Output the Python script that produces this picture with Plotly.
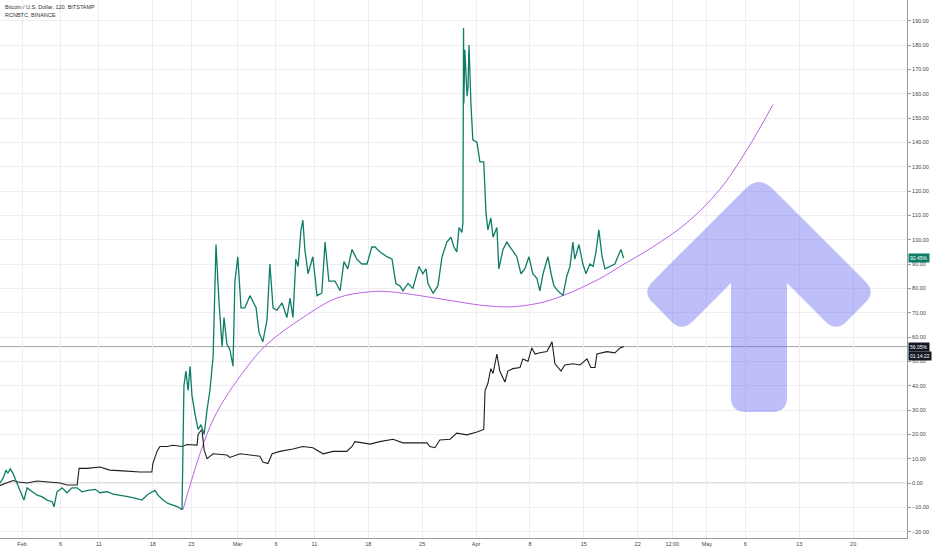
import plotly.graph_objects as go

# RCNBTC, BINANCE - change in % (green)
rcn_time = [
    "2019-01-29 03:00", "2019-01-29 13:00", "2019-01-29 22:00", "2019-01-30 04:00", "2019-01-30 11:00",
    "2019-01-30 20:00", "2019-01-31 02:00", "2019-01-31 12:00", "2019-02-01 00:00", "2019-02-01 06:00",
    "2019-02-01 16:00", "2019-02-02 07:00", "2019-02-02 23:00", "2019-02-03 14:00", "2019-02-04 06:00",
    "2019-02-04 22:00", "2019-02-05 04:00", "2019-02-05 13:00", "2019-02-06 05:00", "2019-02-06 20:00",
    "2019-02-07 12:00", "2019-02-08 04:00", "2019-02-08 19:00", "2019-02-09 14:00", "2019-02-10 12:00",
    "2019-02-11 03:00", "2019-02-12 01:00", "2019-02-12 20:00", "2019-02-13 18:00", "2019-02-14 18:00",
    "2019-02-15 16:00", "2019-02-16 14:00", "2019-02-17 09:00", "2019-02-18 07:00", "2019-02-18 16:00",
    "2019-02-19 08:00", "2019-02-19 23:00", "2019-02-20 15:00", "2019-02-21 06:00", "2019-02-21 19:00",
    "2019-02-21 22:00", "2019-02-22 01:00", "2019-02-22 07:00", "2019-02-22 14:00", "2019-02-22 20:00",
    "2019-02-23 02:00", "2019-02-23 12:00", "2019-02-23 21:00", "2019-02-24 06:00", "2019-02-24 16:00",
    "2019-02-25 01:00", "2019-02-25 10:00", "2019-02-25 20:00", "2019-02-26 05:00", "2019-02-26 14:00",
    "2019-02-27 00:00", "2019-02-27 06:00", "2019-02-27 15:00", "2019-02-28 00:00", "2019-02-28 10:00",
    "2019-02-28 16:00", "2019-03-01 01:00", "2019-03-01 11:00", "2019-03-01 23:00", "2019-03-02 15:00",
    "2019-03-03 10:00", "2019-03-03 19:00", "2019-03-04 07:00", "2019-03-04 20:00", "2019-03-05 05:00",
    "2019-03-05 15:00", "2019-03-06 03:00", "2019-03-06 19:00", "2019-03-07 10:00", "2019-03-07 20:00",
    "2019-03-08 05:00", "2019-03-08 14:00", "2019-03-08 21:00", "2019-03-09 06:00", "2019-03-09 12:00",
    "2019-03-09 18:00", "2019-03-10 04:00", "2019-03-10 19:00", "2019-03-11 08:00", "2019-03-11 23:00",
    "2019-03-12 09:00", "2019-03-12 21:00", "2019-03-13 16:00", "2019-03-14 08:00", "2019-03-14 20:00",
    "2019-03-15 08:00", "2019-03-15 21:00", "2019-03-16 12:00", "2019-03-17 04:00", "2019-03-17 20:00",
    "2019-03-18 11:00", "2019-03-18 21:00", "2019-03-19 12:00", "2019-03-20 10:00", "2019-03-21 02:00",
    "2019-03-21 14:00", "2019-03-22 03:00", "2019-03-22 12:00", "2019-03-23 04:00", "2019-03-23 19:00",
    "2019-03-24 14:00", "2019-03-25 02:00", "2019-03-25 12:00", "2019-03-25 18:00", "2019-03-26 10:00",
    "2019-03-27 01:00", "2019-03-27 14:00", "2019-03-28 05:00", "2019-03-28 18:00", "2019-03-29 03:00",
    "2019-03-29 12:00", "2019-03-29 19:00", "2019-03-30 04:00", "2019-03-30 07:00", "2019-03-30 09:00",
    "2019-03-30 10:00", "2019-03-30 13:00", "2019-03-30 20:00", "2019-03-30 23:00", "2019-03-31 02:00",
    "2019-03-31 08:00", "2019-03-31 14:00", "2019-04-01 03:00", "2019-04-01 12:00", "2019-04-02 00:00",
    "2019-04-02 07:00", "2019-04-02 13:00", "2019-04-02 22:00", "2019-04-03 05:00", "2019-04-03 17:00",
    "2019-04-03 23:00", "2019-04-04 12:00", "2019-04-05 00:00", "2019-04-05 16:00", "2019-04-06 07:00",
    "2019-04-06 20:00", "2019-04-07 08:00", "2019-04-07 21:00", "2019-04-08 09:00", "2019-04-08 22:00",
    "2019-04-09 07:00", "2019-04-09 17:00", "2019-04-10 08:00", "2019-04-10 18:00", "2019-04-11 03:00",
    "2019-04-11 15:00", "2019-04-12 07:00", "2019-04-12 19:00", "2019-04-13 05:00", "2019-04-13 14:00",
    "2019-04-13 20:00", "2019-04-14 09:00", "2019-04-14 21:00", "2019-04-15 07:00", "2019-04-15 19:00",
    "2019-04-16 05:00", "2019-04-16 14:00", "2019-04-16 23:00", "2019-04-17 09:00", "2019-04-17 18:00",
    "2019-04-18 09:00", "2019-04-19 01:00", "2019-04-19 10:00", "2019-04-19 20:00", "2019-04-20 04:00",
]
rcn_pct = [
    0, 2, 5.3, 4, 5.8,
    4, 2, -1.5, -5.6, -7,
    -2, -3.6, -5, -5.6, -7,
    -7.7, -9.8, -3.6, -2, -4,
    -2, -2, -3.6, -3, -2.6,
    -4, -3.6, -4.6, -5, -5.6,
    -6.2, -7, -4.6, -3, -5,
    -7, -8.4, -9, -9.8, -11,
    25, 40, 46, 38, 48,
    36, 28, 22, 24, 20,
    30, 38, 52, 98, 75,
    56, 68, 57, 55, 48,
    83, 93, 72, 72, 77,
    72, 62, 58, 67, 90,
    72, 71, 74, 68, 76,
    68, 92, 89, 104, 108,
    96, 86, 93, 77, 78,
    99, 83, 83, 79, 91,
    88, 96, 92, 90, 90,
    97, 97, 95, 93, 92,
    82, 81, 79, 82, 80,
    89, 86, 88, 82, 78,
    81, 93, 99, 101, 97,
    95, 105, 103, 107, 187,
    156, 178, 159, 163, 180,
    156, 141, 140, 132, 132,
    111, 104, 109, 101, 105,
    88, 96, 99, 96, 93,
    86, 88, 93, 86, 84,
    79, 86, 93, 86, 81,
    79, 77, 85, 89, 99,
    92, 98, 90, 86, 90,
    89, 95, 104, 93, 88,
    89, 90, 93, 96, 92.45,
]

# Bitcoin / U.S. Dollar, BITSTAMP - change in % (black)
btc_time = [
    "2019-01-29 03:00", "2019-01-30 01:00", "2019-01-30 20:00", "2019-01-31 12:00", "2019-02-01 16:00",
    "2019-02-02 23:00", "2019-02-04 15:00", "2019-02-05 23:00", "2019-02-06 20:00", "2019-02-08 04:00",
    "2019-02-08 10:00", "2019-02-09 11:00", "2019-02-11 03:00", "2019-02-12 10:00", "2019-02-14 03:00",
    "2019-02-16 08:00", "2019-02-17 21:00", "2019-02-18 00:00", "2019-02-18 13:00", "2019-02-18 22:00",
    "2019-02-19 20:00", "2019-02-20 15:00", "2019-02-21 19:00", "2019-02-22 11:00", "2019-02-23 18:00",
    "2019-02-23 21:00", "2019-02-24 09:00", "2019-02-24 16:00", "2019-02-25 01:00", "2019-02-25 20:00",
    "2019-02-27 15:00", "2019-02-28 00:00", "2019-03-01 08:00", "2019-03-02 15:00", "2019-03-03 22:00",
    "2019-03-04 07:00", "2019-03-04 23:00", "2019-03-05 12:00", "2019-03-06 12:00", "2019-03-08 05:00",
    "2019-03-09 12:00", "2019-03-10 19:00", "2019-03-12 03:00", "2019-03-13 10:00", "2019-03-15 05:00",
    "2019-03-15 21:00", "2019-03-16 06:00", "2019-03-17 07:00", "2019-03-18 05:00", "2019-03-19 12:00",
    "2019-03-21 05:00", "2019-03-22 12:00", "2019-03-24 08:00", "2019-03-25 15:00", "2019-03-26 00:00",
    "2019-03-26 16:00", "2019-03-27 07:00", "2019-03-28 15:00", "2019-03-29 12:00", "2019-03-30 20:00",
    "2019-04-01 03:00", "2019-04-02 00:00", "2019-04-02 04:00", "2019-04-02 13:00", "2019-04-02 22:00",
    "2019-04-03 05:00", "2019-04-03 17:00", "2019-04-04 02:00", "2019-04-04 18:00", "2019-04-05 03:00",
    "2019-04-05 19:00", "2019-04-06 17:00", "2019-04-07 02:00", "2019-04-07 18:00", "2019-04-08 06:00",
    "2019-04-08 16:00", "2019-04-09 07:00", "2019-04-10 05:00", "2019-04-10 21:00", "2019-04-11 06:00",
    "2019-04-12 01:00", "2019-04-12 13:00", "2019-04-13 14:00", "2019-04-14 12:00", "2019-04-15 10:00",
    "2019-04-15 22:00", "2019-04-16 11:00", "2019-04-16 17:00", "2019-04-18 00:00", "2019-04-19 01:00",
    "2019-04-19 17:00", "2019-04-20 04:00",
]
btc_pct = [
    -1, 0, 1, 0.4, 0,
    0.8, 0.4, 0, -0.8, -0.8,
    6, 6, 6.6, 5.3, 5,
    4.5, 4.5, 8, 13, 15,
    15, 15.5, 15, 15.8, 15.6,
    20, 22, 13.6, 10, 12,
    11.5, 10.5, 12, 11.5, 11,
    8.6, 8, 12, 13, 14,
    15, 14.5, 12, 13, 13,
    15, 17, 16.5, 16, 17,
    18, 16.5, 16.5, 16.5, 15,
    14.5, 17.7, 18, 20.5, 19.8,
    21, 22, 38, 41, 47,
    45, 53, 46, 41.5, 46,
    47, 47.5, 51, 50, 55.5,
    53, 53.5, 54, 58, 49,
    46, 48.5, 49, 48.5, 51,
    47.5, 47.5, 53, 54, 53.5,
    55.5, 56.05,
]

# fitted curve (purple)
curve_time = [
    "2019-02-21 22:00", "2019-02-25 20:00", "2019-03-01 23:00", "2019-03-04 20:00", "2019-03-09 12:00",
    "2019-03-13 22:00", "2019-03-18 05:00", "2019-03-20 19:00", "2019-03-24 17:00", "2019-03-28 15:00",
    "2019-04-01 21:00", "2019-04-05 10:00", "2019-04-09 07:00", "2019-04-12 07:00", "2019-04-17 02:00",
    "2019-04-19 17:00", "2019-04-23 23:00", "2019-04-28 10:00", "2019-05-02 16:00", "2019-05-06 05:00",
    "2019-05-09 14:00",
]
curve_pct = [
    -11, 26, 46.5, 57, 68,
    76, 78.6, 78.6, 77, 75,
    73, 72.4, 74, 77, 84,
    89, 97, 107, 120.6, 137,
    155.5,
]

x_ticks = [
    "2019-02-01", "2019-02-06", "2019-02-11", "2019-02-18", "2019-02-23", "2019-03-01", "2019-03-06",
    "2019-03-11", "2019-03-18", "2019-03-25", "2019-04-01", "2019-04-08", "2019-04-15", "2019-04-22",
    "2019-04-26 12:00", "2019-05-01", "2019-05-06", "2019-05-13", "2019-05-20",
]
x_labels = [
    "Feb", "6", "11", "18", "23", "Mar", "6", "11", "18", "25", "Apr", "8", "15", "22",
    "12:00", "May", "6", "13", "20",
]
y_ticks = list(range(-20, 200, 10))

W, H = 932, 550
ML, MR, MT, MB = 0, 25, 0, 12
PW, PH = W - ML - MR, H - MT - MB


def px(x, y):
    # pixel position in the plot area -> paper coords
    return x / PW, (PH - y) / PH


def rounded_path(pts, radii):
    out = []
    n = len(pts)
    for i in range(n):
        vx, vy = pts[i]
        r = radii[i]
        if r == 0:
            out.append(("L", (vx, vy)))
            continue
        ax, ay = pts[i - 1]
        bx, by = pts[(i + 1) % n]
        la = ((ax - vx) ** 2 + (ay - vy) ** 2) ** 0.5
        lb = ((bx - vx) ** 2 + (by - vy) ** 2) ** 0.5
        s = (vx + r * (ax - vx) / la, vy + r * (ay - vy) / la)
        e = (vx + r * (bx - vx) / lb, vy + r * (by - vy) / lb)
        out.append(("C", s, (vx, vy), e))
    path = ""
    for j, seg in enumerate(out):
        if seg[0] == "L":
            p = px(*seg[1])
            path += ("M" if j == 0 else " L") + f"{p[0]:.5f},{p[1]:.5f}"
        else:
            s, c, e = (px(*q) for q in seg[1:])
            path += ("M" if j == 0 else " L") + f"{s[0]:.5f},{s[1]:.5f}"
            path += f" Q{c[0]:.5f},{c[1]:.5f} {e[0]:.5f},{e[1]:.5f}"
    return path + " Z"


arrow_pts = [(759, 175), (876, 292), (836, 332), (787, 283), (787, 412),
             (731, 412), (731, 283), (682, 332), (642, 292)]
arrow_r = [20, 15, 15, 0, 15, 15, 0, 15, 15]

fig = go.Figure()
fig.add_trace(go.Scatter(x=curve_time, y=curve_pct, mode="lines", line_shape="spline",
                         line=dict(color="#b764e6", width=1)))
fig.add_trace(go.Scatter(x=btc_time, y=btc_pct, mode="lines",
                         line=dict(color="#1e1e1e", width=1.1)))
fig.add_trace(go.Scatter(x=rcn_time, y=rcn_pct, mode="lines",
                         line=dict(color="#0e7d66", width=1.3)))

fig.add_shape(type="line", xref="paper", yref="y", x0=0, x1=1, y0=0, y1=0,
              line=dict(color="#c8c0d2", width=1), layer="below")
fig.add_shape(type="line", xref="paper", yref="y", x0=0, x1=1, y0=56.05, y1=56.05,
              line=dict(color="#8a8a8a", width=0.8), layer="below")
fig.add_shape(type="path", xref="paper", yref="paper", path=rounded_path(arrow_pts, arrow_r),
              fillcolor="rgba(110,110,240,0.45)", line=dict(width=0), layer="above")

small = dict(family="Liberation Sans", size=5.5, color="#444")
fig.add_annotation(text="Bitcoin / U.S. Dollar, 120, BITSTAMP", xref="paper", yref="paper",
                   x=3 / PW, y=px(0, 7)[1], xanchor="left", yanchor="middle", showarrow=False,
                   font=dict(family="Liberation Sans", size=5.5, color="#333"))
fig.add_annotation(text="RCNBTC, BINANCE", xref="paper", yref="paper",
                   x=3 / PW, y=px(0, 15)[1], xanchor="left", yanchor="middle", showarrow=False,
                   font=dict(family="Liberation Sans", size=5.5, color="#333"))

tag = dict(xref="paper", yref="y", x=1, xanchor="left", yanchor="middle", showarrow=False,
           borderpad=1, xshift=1, font=dict(family="Liberation Sans", size=5, color="white"))
fig.add_annotation(text="92.45%", y=92.45, bgcolor="#0e7d66", **tag)
fig.add_annotation(text="56.05%", y=56.05, bgcolor="#131722", **tag)
fig.add_annotation(text="01:14:22", y=56.05, yshift=-9, bgcolor="#131722", **tag)

fig.update_layout(
    width=W, height=H,
    margin=dict(l=ML, r=MR, t=MT, b=MB),
    plot_bgcolor="white", paper_bgcolor="white",
    showlegend=False,
    hovermode=False,
    xaxis=dict(type="date", range=["2019-01-29 03:20", "2019-05-27 00:00"],
               tickvals=x_ticks, ticktext=x_labels, tickfont=small,
               showgrid=True, gridcolor="#f0ecf4", gridwidth=1,
               showline=True, linecolor="#9a9a9a", linewidth=1, zeroline=False),
    yaxis=dict(side="right", range=[-22.6, 198.5], tickvals=y_ticks,
               tickformat=".2f", ticksuffix="%", tickfont=small,
               ticks="outside", ticklen=3, tickcolor="#9a9a9a",
               showgrid=True, gridcolor="#f0ecf4", gridwidth=1,
               showline=True, linecolor="#9a9a9a", linewidth=1, zeroline=False),
)

# the page is exactly the figure size, so drop the default body margin
fig.write_html("out.html", config={"displayModeBar": False},
               post_script="document.body.style.margin = '0';")
